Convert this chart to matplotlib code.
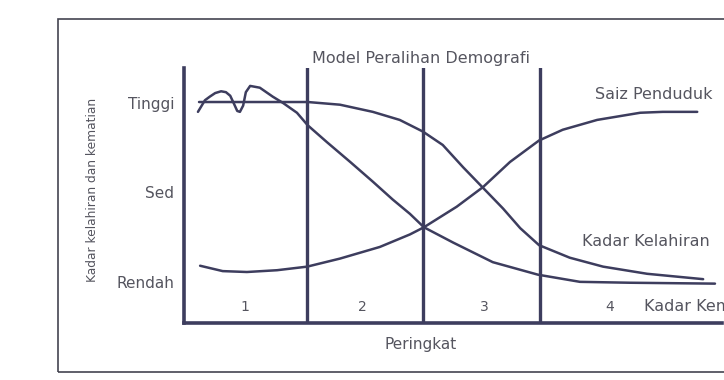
import matplotlib
matplotlib.use("Agg")
import matplotlib.pyplot as plt
from matplotlib.patches import Rectangle

# Model Peralihan Demografi (x: masa 0-100, y: Rendah=0, Sed=1, Tinggi=2)
mati_x = [2.6, 3.9, 4.8, 5.8, 6.9, 7.8, 8.6, 9.3, 9.9, 10.4, 11.0, 11.5, 12.3, 14.1, 16.5,
          18.4, 21.0, 23.0, 26.6, 30.9, 35.1, 38.8, 42.0, 44.6, 50.0, 57.4, 65.8, 73.6,
          82.9, 98.7]
mati_y = [1.90, 2.03, 2.07, 2.11, 2.13, 2.12, 2.08, 1.99, 1.91, 1.90, 1.97, 2.12, 2.19, 2.17, 2.07,
          2.00, 1.89, 1.75, 1.56, 1.34, 1.12, 0.92, 0.76, 0.61, 0.44, 0.22, 0.08, 0.00,
          -0.01, -0.02]

lahir_x = [2.8, 11.0, 23.0, 29.0, 35.1, 40.1, 44.4, 48.1, 51.9, 55.6, 59.3, 62.5, 66.0,
           71.7, 77.9, 86.1, 96.5]
lahir_y = [2.01, 2.01, 2.01, 1.98, 1.90, 1.81, 1.68, 1.53, 1.28, 1.05, 0.82, 0.60, 0.41,
           0.27, 0.17, 0.09, 0.03]

pddk_x = [3.0, 7.2, 11.7, 17.3, 22.9, 29.0, 36.4, 42.0, 44.6, 50.7, 55.6, 60.6, 66.0,
          70.4, 76.8, 84.8, 89.0, 95.4]
pddk_y = [0.18, 0.12, 0.11, 0.13, 0.17, 0.26, 0.39, 0.53, 0.61, 0.84, 1.06, 1.34, 1.58,
          1.70, 1.81, 1.89, 1.90, 1.90]

peringkat_garis = [22.9, 44.5, 66.2]
peringkat_label = ["1", "2", "3", "4"]
peringkat_pos = [11.3, 33.1, 55.9, 79.2]

tahap = [0, 1, 2]
tahap_label = ["Rendah", "Sed", "Tinggi"]

garis = "#3d3d5e"
teks = "#55555f"

fig = plt.figure(figsize=(7.24, 3.80), dpi=100)
ax = fig.add_axes([0.2541, 0.15, 0.7431, 0.671])

for xs, ys in [(mati_x, mati_y), (lahir_x, lahir_y), (pddk_x, pddk_y)]:
    ax.plot(xs, ys, color=garis, lw=1.8, solid_capstyle="round", solid_joinstyle="round")
for xv in peringkat_garis:
    ax.axvline(xv, color=garis, lw=2.4)

ax.set_xlim(0, 100)
ax.set_ylim(-0.46, 2.39)
for s in ["top", "right"]:
    ax.spines[s].set_visible(False)
for s in ["left", "bottom"]:
    ax.spines[s].set_linewidth(2.6)
    ax.spines[s].set_color(garis)
ax.set_xticks([])
ax.set_yticks(tahap)
ax.set_yticklabels(tahap_label, color=teks, fontsize=11)
ax.tick_params(axis="y", length=0, pad=7)

for xp, lb in zip(peringkat_pos, peringkat_label):
    ax.text(xp, -0.28, lb, ha="center", va="center", fontsize=10, color=teks)

ax.text(44.0, 2.50, "Model Peralihan Demografi", ha="center", va="center",
        fontsize=11.5, color=teks, clip_on=False)
ax.text(44.0, -0.70, "Peringkat", ha="center", va="center", fontsize=11, color=teks, clip_on=False)
ax.text(76.4, 2.09, "Saiz Penduduk", ha="left", va="center", fontsize=11.5, color=teks)
ax.text(74.0, 0.45, "Kadar Kelahiran", ha="left", va="center", fontsize=11.5, color=teks)
# terpotong di tepi kanan seperti gambar asal
ax.text(85.5, -0.28, "Kadar Kematian", ha="left", va="center", fontsize=11.5, color=teks, clip_on=False)

fig.text(92 / 724, 1 - 190 / 380, "Kadar kelahiran dan kematian", rotation=90,
         ha="center", va="center", fontsize=8.8, color=teks)

# bingkai luar
fig.add_artist(Rectangle((58 / 724, 8 / 380), 1.2, (372 - 19) / 380, transform=fig.transFigure,
                         fill=False, edgecolor="#444450", lw=1.2))

fig.savefig("out.png", dpi=100)
